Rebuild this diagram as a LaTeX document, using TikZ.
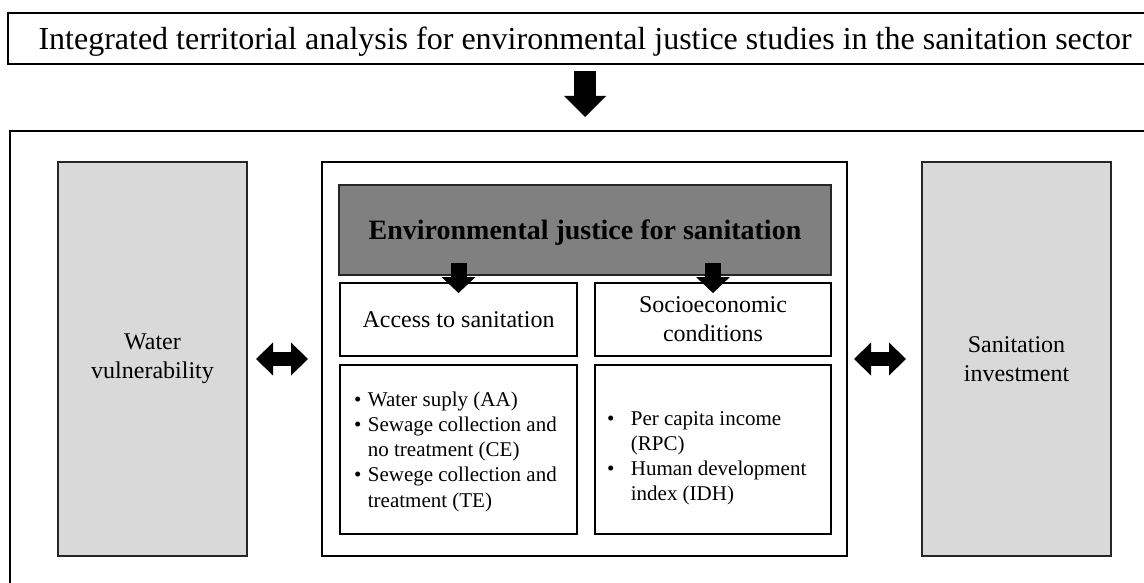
\documentclass[tikz,border=0pt]{standalone}
\usepackage{fontspec}
\setmainfont{Liberation Serif}
\usetikzlibrary{arrows.meta}
\definecolor{lightfill}{HTML}{D9D9D9}
\definecolor{darkfill}{HTML}{808080}
\begin{document}
\begin{tikzpicture}[x=1pt,y=-1pt,
  every node/.style={outer sep=0pt,inner sep=0pt},
  titlebox/.style={draw=black,line width=2pt,minimum width=1154pt,minimum height=51pt,
    font=\fontsize{32}{38}\selectfont,text depth=0pt},
  outerbox/.style={draw=black,line width=2pt,minimum width=1150pt,minimum height=500pt},
  sidebox/.style={draw=black!85,fill=lightfill,line width=1.3pt,minimum width=189pt,minimum height=394pt,
    align=center,font=\fontsize{24}{29}\selectfont},
  corebox/.style={draw=black,line width=1.5pt,minimum width=525pt,minimum height=394pt},
  darkbox/.style={draw=black!85,fill=darkfill,line width=1.3pt,minimum width=492pt,minimum height=90pt,
    font=\fontsize{28}{34}\selectfont\bfseries,text depth=0pt},
  subbox/.style={draw=black,line width=1.3pt,minimum height=#1,align=center,
    font=\fontsize{24}{29}\selectfont},
  bultext/.style={anchor=base west,font=\fontsize{21}{25.3}\selectfont},
  bigarrow/.style={line width=22pt,-{Triangle[width=42pt,length=21pt,line width=0pt]}},
  midarrow/.style={line width=16pt,-{Triangle[width=34pt,length=16pt,line width=0pt]}},
  dblarrow/.style={line width=14pt,{Triangle[width=33pt,length=17pt,line width=0pt]}-{Triangle[width=33pt,length=17pt,line width=0pt]}}
]
\useasboundingbox (0,0) rectangle (1144,583);
\clip (0,0) rectangle (1144,583);

% heading and the frame below it
\node[titlebox] (title) at (585,38.5)
  {Integrated territorial analysis for environmental justice studies in the sanitation sector};
\node[outerbox] (outer) at (585,381) {};

% the three columns
\node[sidebox] (water) at (152.5,359) {Water\\vulnerability};
\node[corebox] (core) at (584.5,359) {};
\node[sidebox] (invest) at (1016.5,359) {Sanitation\\investment};

% inside the central column
\node[darkbox] (ej) at (585,230) {Environmental justice for sanitation};
\node[subbox=73pt,minimum width=237pt] (access) at (458.5,319.5) {Access to sanitation};
\node[subbox=73pt,minimum width=236pt] (socio) at (713,319.5) {Socioeconomic\\conditions};
\node[subbox=169pt,minimum width=237pt] (accind) at (458.5,449.5) {};
\node[subbox=169pt,minimum width=236pt] (socind) at (713,449.5) {};

\node[bultext] (acctext) at ([shift={(14,-43.5)}]accind.west)
  {\begin{tabular}[t]{@{}l@{\hspace{6.5pt}}l@{}}
   \textbullet & Water suply (AA)\\
   \textbullet & Sewage collection and\\
               & no treatment (CE)\\
   \textbullet & Sewege collection and\\
               & treatment (TE)
   \end{tabular}};
\node[bultext] (soctext) at ([shift={(12,-24.5)}]socind.west)
  {\begin{tabular}[t]{@{}l@{\hspace{16.5pt}}l@{}}
   \textbullet & Per capita income\\
               & (RPC)\\
   \textbullet & Human development\\
               & index (IDH)
   \end{tabular}};

% block arrows
\draw[bigarrow,shorten <=7pt,shorten >=14pt] (title.south) -- (outer.north);
\draw[midarrow,shorten <=-12pt,shorten >=-10pt] (ej.south -| access.north) -- (access.north);
\draw[midarrow,shorten <=-12pt,shorten >=-10pt] (ej.south -| socio.north) -- (socio.north);
\draw[dblarrow,shorten <=9pt,shorten >=14pt] (water.east) -- (core.west);
\draw[dblarrow,shorten <=7pt,shorten >=16pt] (core.east) -- (invest.west);
\end{tikzpicture}
\end{document}
